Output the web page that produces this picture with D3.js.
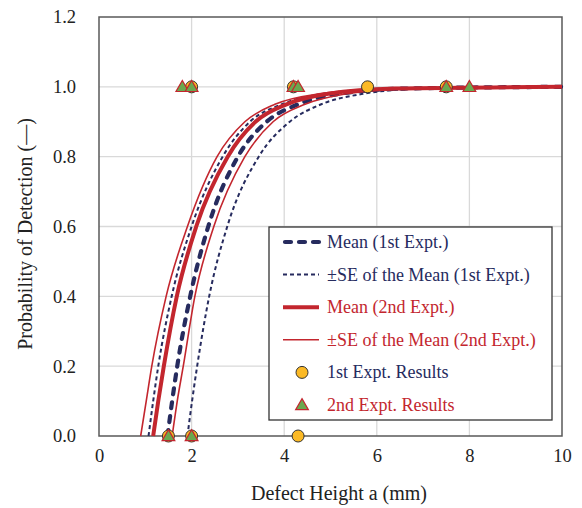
<!DOCTYPE html>
<meta charset="utf-8" />
<html>
<head>
<title>POD curves</title>
<script src="https://cdn.jsdelivr.net/npm/d3@7"></script>
<style>
  body { margin: 0; background: #fff; }
  text { font-family: "Liberation Serif", "Times New Roman", serif; }
</style>
</head>
<body>
<div id="viz"></div>
<script>

// tick labels
var xTicks = [0, 2, 4, 6, 8, 10];
var yTicks = [0, 0.2, 0.4, 0.6, 0.8, 1.0, 1.2];

// POD curves: defect height at each POD level
var podLevels   = [0, 0.1, 0.2, 0.4, 0.6, 0.8, 0.9, 0.95, 0.98, 0.995, 1.0];
var mean1       = [1.48, 1.58, 1.69, 1.97, 2.36, 3.00, 3.62, 4.30, 5.20, 6.60, 10];
var seLow1      = [1.07, 1.17, 1.28, 1.57, 2.00, 2.67, 3.26, 3.95, 4.85, 6.40, 10];
var seHigh1     = [1.91, 2.01, 2.12, 2.38, 2.77, 3.45, 4.12, 4.80, 5.70, 7.00, 10];
var mean2       = [1.17, 1.28, 1.40, 1.68, 2.10, 2.78, 3.38, 4.05, 4.95, 6.40, 10];
var seLow2      = [0.90, 1.02, 1.14, 1.45, 1.91, 2.55, 3.15, 3.80, 4.75, 6.30, 10];
var seHigh2     = [1.58, 1.69, 1.82, 2.07, 2.48, 3.15, 3.76, 4.45, 5.35, 6.70, 10];

// experiment results (hit = 1, miss = 0)
var expt1Height = [1.5, 2.0, 4.3, 2.0, 4.2, 5.8, 7.5];
var expt1Result = [0, 0, 0, 1, 1, 1, 1];
var expt2Height = [1.5, 2.0, 1.8, 2.0, 4.2, 4.3, 7.5, 8.0];
var expt2Result = [0, 0, 1, 1, 1, 1, 1, 1];

var navy = "#262b5e", red = "#c3262e";

width = 582;
height = 508;
var svg = d3.select("#viz").append("svg")
    .attr("width", width)
    .attr("height", height);

var x = d3.scaleLinear().domain([0, 10]).range([99, 562]);
var y = d3.scaleLinear().domain([0, 1.2]).range([436, 17]);

// grid
svg.append("g").selectAll("line").data(xTicks.slice(1, -1))
  .enter().append("line")
  .attr("x1", d => x(d)).attr("x2", d => x(d))
  .attr("y1", y(0)).attr("y2", y(1.2))
  .style("stroke", "#d9d9d9").style("stroke-width", 1.3);
svg.append("g").selectAll("line").data(yTicks.slice(1, -1))
  .enter().append("line")
  .attr("x1", x(0)).attr("x2", x(10))
  .attr("y1", d => y(d)).attr("y2", d => y(d))
  .style("stroke", "#d9d9d9").style("stroke-width", 1.3);

// axes (labels only, the frame draws the lines)
var xAxis = svg.append("g")
  .attr("transform", "translate(0," + y(0) + ")")
  .call(d3.axisBottom(x).tickValues(xTicks).tickSize(0).tickPadding(13));
var yAxis = svg.append("g")
  .attr("transform", "translate(" + x(0) + ",0)")
  .call(d3.axisLeft(y).tickValues(yTicks).tickFormat(d3.format(".1f")).tickSize(0).tickPadding(23));
[xAxis, yAxis].forEach(function(a) {
  a.select(".domain").remove();
  a.selectAll("text").style("font-family", "Liberation Serif, serif")
    .style("font-size", "18.5px").style("fill", "#222");
});

svg.append("rect")
  .attr("x", x(0)).attr("y", y(1.2))
  .attr("width", x(10) - x(0)).attr("height", y(0) - y(1.2))
  .style("fill", "none").style("stroke", "#595959").style("stroke-width", 1.5);

// axis titles
svg.append("text")
  .attr("x", 339).attr("y", 500)
  .attr("text-anchor", "middle")
  .style("font-size", "20px").style("fill", "#222")
  .text("Defect Height a (mm)");
svg.append("text")
  .attr("transform", "translate(32,234) rotate(-90)")
  .attr("text-anchor", "middle")
  .style("font-size", "20px").style("fill", "#222")
  .text("Probability of Detection (—)");

// curves
var line = d3.line()
  .x(d => x(d[0]))
  .y(d => y(d[1]))
  .curve(d3.curveMonotoneX);

var styles = {
  seLow2:  { data: seLow2,  color: red,  w: 1.6, dash: null },
  seHigh2: { data: seHigh2, color: red,  w: 1.6, dash: null },
  mean2:   { data: mean2,   color: red,  w: 4,   dash: null },
  seLow1:  { data: seLow1,  color: navy, w: 2,   dash: "4,3" },
  seHigh1: { data: seHigh1, color: navy, w: 2,   dash: "4,3" },
  mean1:   { data: mean1,   color: navy, w: 4.2, dash: "6,8", cap: "round" }
};

var curves = svg.append("g");
["seLow1", "seHigh1", "mean1", "seLow2", "seHigh2", "mean2"].forEach(function(k) {
  var s = styles[k];
  curves.append("path")
    .datum(s.data.map((a, i) => [a, podLevels[i]]))
    .attr("d", line)
    .style("fill", "none")
    .style("stroke", s.color)
    .style("stroke-width", s.w)
    .style("stroke-dasharray", s.dash)
    .style("stroke-linecap", s.cap || "butt");
});

// markers
function circleMark(g) {
  g.attr("r", 6).style("fill", "#fbb925").style("stroke", "#333").style("stroke-width", 1);
}
var tri = d3.symbol().type(d3.symbolTriangle).size(70);
function triMark(g) {
  g.attr("d", tri).style("fill", "#6aa84f").style("stroke", red).style("stroke-width", 1.2);
}

svg.append("g").selectAll("circle")
  .data(expt1Height.map((a, i) => [a, expt1Result[i]]))
  .enter().append("circle")
  .attr("cx", d => x(d[0]))
  .attr("cy", d => y(d[1]))
  .call(circleMark);

svg.append("g").selectAll("path")
  .data(expt2Height.map((a, i) => [a, expt2Result[i]]))
  .enter().append("path")
  .attr("transform", d => "translate(" + x(d[0]) + "," + (y(d[1]) + 1) + ")")
  .call(triMark);

// legend
var legendItems = [
  { label: "Mean (1st Expt.)", key: "mean1", color: navy },
  { label: "±SE of the Mean (1st Expt.)", key: "seLow1", color: navy },
  { label: "Mean (2nd Expt.)", key: "mean2", color: red },
  { label: "±SE of the Mean (2nd Expt.)", key: "seLow2", color: red },
  { label: "1st Expt. Results", key: "circle", color: navy },
  { label: "2nd Expt. Results", key: "triangle", color: red }
];

var lg = svg.append("g");
lg.append("rect")
  .attr("x", 269).attr("y", 227).attr("width", 283).attr("height", 193)
  .style("fill", "#fff").style("stroke", "#333").style("stroke-width", 1.3);

legendItems.forEach(function(it, i) {
  var cy = 242 + i * 32.6;
  if (it.key == "circle") {
    lg.append("circle").attr("cx", 302).attr("cy", cy).call(circleMark);
  } else if (it.key == "triangle") {
    lg.append("path").attr("transform", "translate(302," + (cy + 1) + ")").call(triMark);
  } else {
    var s = styles[it.key];
    lg.append("line")
      .attr("x1", s.cap ? 285 : 283).attr("x2", 319)
      .attr("y1", cy).attr("y2", cy)
      .style("stroke", s.color)
      .style("stroke-width", s.w)
      .style("stroke-dasharray", s.dash)
      .style("stroke-linecap", s.cap || "butt");
  }
  lg.append("text")
    .attr("x", 327).attr("y", cy + 6)
    .style("font-size", "18px")
    .style("fill", it.color)
    .text(it.label);
});

</script>
</body>
</html>
